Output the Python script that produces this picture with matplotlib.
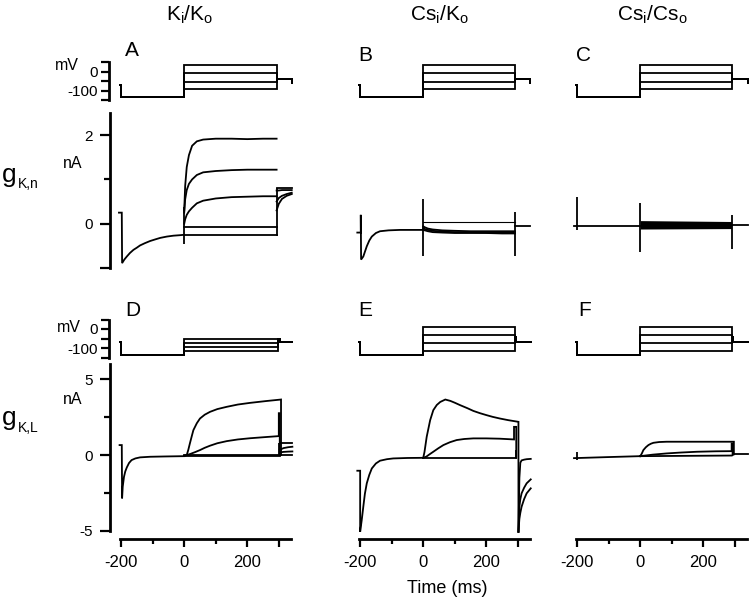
import matplotlib.pyplot as plt

plt.rcParams['font.family'] = ['Liberation Sans', 'DejaVu Sans']
plt.rcParams['mathtext.default'] = 'regular'

W, H = 749, 600

# ---------------- voltage protocols (mV) ----------------
PANELS = ['A', 'B', 'C', 'D', 'E', 'F']
V_HOLD = [-71, -71, -71, -68, -68, -68]
V_PRE = [-134, -134, -134, -137, -137, -137]
V_STEPS_TOP = [35, -8, -55, -92]
V_STEPS_D = [-53, -74, -95, -116]
V_STEPS_EF = [10, -32, -74, -116]
V_STEPS = [V_STEPS_TOP, V_STEPS_TOP, V_STEPS_TOP, V_STEPS_D, V_STEPS_EF, V_STEPS_EF]
V_NOTCH = [-39, -39, -39, -53, -40, -40]
V_TAIL = [-39, -39, -39, -68, -68, -68]
V_AFTER = [-60, -60, -60, -68, -68, -68]
STEP_END = [293, 291, 290, 296, 291, 290]
NOTCH_END = [293, 291, 290, 305, 295, 295]
TRACE_END = [341, 339, 341, 343, 341, 341]

# ---------------- currents (nA) ----------------
# A  Ki/Ko, gK,n
A_PRE_T = [-207, -198, -197, -190, -182, -172, -161, -150, -140, -125, -108, -90, -76, -55, -34, -15, 0]
A_PRE_I = [0.25, 0.25, -0.89, -0.81, -0.74, -0.66, -0.59, -0.54, -0.49, -0.44, -0.39, -0.35, -0.32,
           -0.29, -0.27, -0.26, -0.25]
A_STEP_T = [0, 3, 8, 15, 25, 40, 60, 100, 150, 200, 250, 293]
A_STEP_I = [
    [0.30, 0.85, 1.28, 1.55, 1.76, 1.86, 1.90, 1.92, 1.92, 1.91, 1.92, 1.92],
    [0.25, 0.55, 0.76, 0.90, 1.00, 1.10, 1.16, 1.19, 1.21, 1.22, 1.22, 1.22],
    [0.00, 0.10, 0.20, 0.28, 0.36, 0.46, 0.52, 0.57, 0.60, 0.61, 0.62, 0.62],
    [-0.08, -0.08, -0.08, -0.08, -0.08, -0.08, -0.08, -0.08, -0.08, -0.08, -0.08, -0.08],
    [-0.25, -0.25, -0.25, -0.25, -0.25, -0.25, -0.25, -0.25, -0.25, -0.25, -0.25, -0.25],
]
A_TAIL_T = [293, 300, 310, 325, 341]
A_TAIL_I = [
    [0.80, 0.80, 0.80, 0.80, 0.80],
    [0.75, 0.75, 0.76, 0.76, 0.76],
    [0.50, 0.58, 0.63, 0.67, 0.70],
    [0.30, 0.45, 0.56, 0.63, 0.67],
]
A_JUMPS = [(0, -0.45, 0.38), (293, -0.28, 0.80)]

# B  Csi/Ko, gK,n
B_PRE_T = [-209, -198, -198, -197, -190, -179, -171, -163, -150, -137, -110, -74, -40, 0]
B_PRE_I = [-0.20, -0.20, 0.20, -0.81, -0.74, -0.51, -0.38, -0.29, -0.21, -0.17, -0.15, -0.14, -0.14, -0.14]
B_STEP_T = [0, 5, 15, 30, 60, 100, 150, 200, 250, 291]
B_STEP_I = [
    [-0.06, -0.08, -0.11, -0.13, -0.15, -0.16, -0.17, -0.17, -0.17, -0.17],
    [-0.10, -0.12, -0.14, -0.16, -0.18, -0.19, -0.19, -0.20, -0.20, -0.20],
    [-0.14, -0.15, -0.17, -0.19, -0.20, -0.21, -0.21, -0.21, -0.22, -0.22],
]
B_THIN_T = [0, 291]
B_THIN_I = [0.03, 0.03]
B_TAIL_T = [291, 339]
B_TAIL_I = [-0.05, -0.05]
B_JUMPS = [(0, -0.74, 0.56), (291, -0.74, 0.26)]

# C  Csi/Cso, gK,n
C_PRE_T = [-210, 0]
C_PRE_I = [-0.06, -0.06]
C_BAND_T = [0, 290]
C_BAND_LO = [-0.12, -0.11]
C_BAND_HI = [0.07, 0.05]
C_TAIL_T = [290, 341]
C_TAIL_I = [-0.02, -0.02]
C_JUMPS = [(-201, -0.15, 0.60), (0, -0.64, 0.47), (290, -0.57, 0.20)]

# D  Ki/Ko, gK,L
D_PRE_T = [-205, -198, -197, -195, -191, -187, -182, -175, -167, -155, -140, -108, -60, 0]
D_PRE_I = [0.66, 0.66, -2.85, -2.08, -1.43, -1.08, -0.81, -0.52, -0.33, -0.22, -0.15, -0.11, -0.09, -0.07]
D_BIG_T = [0, 8, 13, 18, 24, 29, 40, 50, 65, 82, 105, 135, 170, 209, 260, 307, 307]
D_BIG_I = [-0.05, 0.0, 0.35, 0.77, 1.25, 1.64, 2.10, 2.41, 2.66, 2.85, 3.03, 3.18, 3.33, 3.44, 3.56, 3.66, 0.0]
D_MID_T = [0, 8, 20, 35, 50, 65, 82, 105, 135, 170, 209, 260, 300, 300, 303, 303]
D_MID_I = [-0.05, 0.0, 0.08, 0.20, 0.33, 0.48, 0.62, 0.78, 0.92, 1.03, 1.11, 1.19, 1.25, 2.76, 2.76, 0.0]
D_BASE_T = [0, 305]
D_BASE_I = [[-0.06, -0.06], [0.03, 0.03]]
D_TAIL_T = [303, 315, 330, 343]
D_TAIL_I = [
    [0.81, 0.81, 0.81, 0.81],
    [0.35, 0.46, 0.52, 0.55],
    [0.18, 0.21, 0.23, 0.24],
    [0.00, 0.00, 0.00, 0.00],
]
D_JUMPS = [(300, 0.0, 0.81)]

# E  Csi/Ko, gK,L
E_PRE_T = [-209, -200, -200, -195, -190, -185, -179, -171, -163, -150, -137, -115, -95, -50, 0]
E_PRE_I = [-1.03, -1.03, -5.05, -4.28, -3.40, -2.55, -1.86, -1.30, -0.88, -0.55, -0.37, -0.27, -0.22,
           -0.19, -0.18]
E_BIG_T = [0, 4, 11, 22, 32, 43, 54, 70, 86, 100, 117, 140, 159, 180, 201, 220, 243, 270, 302, 302]
E_BIG_I = [-0.18, 0.20, 1.20, 2.30, 2.96, 3.30, 3.50, 3.66, 3.57, 3.45, 3.29, 3.09, 2.91, 2.76, 2.63,
           2.52, 2.41, 2.30, 2.19, -5.05]
E_MID_T = [0, 10, 20, 32, 48, 64, 85, 106, 130, 159, 200, 243, 288, 288, 295, 295]
E_MID_I = [-0.18, -0.10, 0.05, 0.22, 0.45, 0.66, 0.85, 0.99, 1.06, 1.10, 1.10, 1.08, 1.03, 1.86, 1.86, -0.18]
E_BASE_T = [0, 293]
E_BASE_I = [-0.18, -0.18]
E_TAIL_T = [302, 305, 308, 312, 320, 328, 341]
E_TAIL_I = [
    [-5.05, -1.50, -0.50, -0.35, -0.30, -0.27, -0.25],
    [-5.05, -3.40, -2.90, -2.52, -2.15, -1.86, -1.60],
    [-5.05, -4.20, -3.80, -3.40, -2.90, -2.52, -2.19],
]
E_JUMPS = [(293, -0.18, 0.33)]

# F  Csi/Cso, gK,L
F_PRE_T = [-210, -100, 0]
F_PRE_I = [-0.20, -0.13, -0.07]
F_BIG_T = [0, 5, 10, 18, 26, 34, 42, 60, 84, 150, 220, 297, 297]
F_BIG_I = [-0.07, 0.10, 0.33, 0.52, 0.66, 0.75, 0.81, 0.86, 0.88, 0.88, 0.88, 0.88, 0.05]
F_MID_T = [0, 40, 84, 130, 180, 240, 290, 290, 293, 293]
F_MID_I = [-0.07, 0.03, 0.11, 0.17, 0.22, 0.25, 0.26, 0.77, 0.77, 0.0]
F_BASE_T = [0, 290]
F_BASE_I = [-0.07, -0.03]
F_TAIL_T = [293, 341]
F_TAIL_I = [0.07, 0.07]
F_JUMPS = [(-201.6, -0.30, 0.20)]

COL_TITLES = [r'$\mathregular{K_i/K_o}$', r'$\mathregular{Cs_i/K_o}$', r'$\mathregular{Cs_i/Cs_o}$']
X_TICKS = [-200, 0, 200, 300]
X_TICK_LABELS = ['-200', '0', '200', '']

# ---------------- layout ----------------
fig = plt.figure(figsize=(W / 100, H / 100), dpi=100)


def px_axes(left, top, width, height):
    ax = fig.add_axes([left / W, 1 - (top + height) / H, width / W, height / H])
    ax.patch.set_visible(False)
    for s in ax.spines.values():
        s.set_visible(False)
    ax.set_xticks([])
    ax.set_yticks([])
    ax.set_xlim(-210, 345)
    return ax


col_left = [118, 357, 574]
col_w = 175
v_axes, i_axes = [], []
for row, (v_top, i_top, i_h, ylim) in enumerate([(62, 113, 155, (-1, 2.5)), (319.5, 364, 167, (-5, 6))]):
    for col in range(3):
        va = px_axes(col_left[col], v_top, col_w, 38)
        va.set_ylim(-150, 50)
        ia = px_axes(col_left[col], i_top, col_w, i_h)
        ia.set_ylim(*ylim)
        v_axes.append(va)
        i_axes.append(ia)

LW = 1.3
kw = dict(color='black', lw=LW, clip_on=False, solid_joinstyle='miter')

# voltage traces
for k, ax in enumerate(v_axes):
    for v in V_STEPS[k]:
        t = [-205, -199, -199, 0, 0, STEP_END[k], STEP_END[k], NOTCH_END[k], NOTCH_END[k],
             TRACE_END[k], TRACE_END[k]]
        y = [V_HOLD[k], V_HOLD[k], V_PRE[k], V_PRE[k], v, v, V_NOTCH[k], V_NOTCH[k], V_TAIL[k],
             V_TAIL[k], V_AFTER[k]]
        ax.plot(t, y, **kw)


def jumps(ax, items):
    for t, lo, hi in items:
        ax.vlines(t, lo, hi, color='black', lw=LW, clip_on=False)


# A
ax = i_axes[0]
ax.plot(A_PRE_T, A_PRE_I, **kw)
for tr in A_STEP_I:
    ax.plot(A_STEP_T, tr, **kw)
for tr in A_TAIL_I:
    ax.plot(A_TAIL_T, tr, **kw)
jumps(ax, A_JUMPS)

# B
ax = i_axes[1]
ax.plot(B_PRE_T, B_PRE_I, **kw)
for tr in B_STEP_I:
    ax.plot(B_STEP_T, tr, **kw)
ax.plot(B_THIN_T, B_THIN_I, color='black', lw=0.8)
ax.plot(B_TAIL_T, B_TAIL_I, **kw)
jumps(ax, B_JUMPS)

# C
ax = i_axes[2]
ax.plot(C_PRE_T, C_PRE_I, **kw)
ax.fill_between(C_BAND_T, C_BAND_LO, C_BAND_HI, color='black', lw=0)
ax.plot(C_TAIL_T, C_TAIL_I, **kw)
jumps(ax, C_JUMPS)

# D
ax = i_axes[3]
ax.plot(D_PRE_T, D_PRE_I, **kw)
ax.plot(D_BIG_T, D_BIG_I, **kw)
ax.plot(D_MID_T, D_MID_I, **kw)
for tr in D_BASE_I:
    ax.plot(D_BASE_T, tr, **kw)
for tr in D_TAIL_I:
    ax.plot(D_TAIL_T, tr, **kw)
jumps(ax, D_JUMPS)

# E
ax = i_axes[4]
ax.plot(E_PRE_T, E_PRE_I, **kw)
ax.plot(E_BIG_T, E_BIG_I, **kw)
ax.plot(E_MID_T, E_MID_I, **kw)
ax.plot(E_BASE_T, E_BASE_I, **kw)
for tr in E_TAIL_I:
    ax.plot(E_TAIL_T, tr, **kw)
jumps(ax, E_JUMPS)

# F
ax = i_axes[5]
ax.plot(F_PRE_T, F_PRE_I, **kw)
ax.plot(F_BIG_T, F_BIG_I, **kw)
ax.plot(F_MID_T, F_MID_I, **kw)
ax.plot(F_BASE_T, F_BASE_I, **kw)
ax.plot(F_TAIL_T, F_TAIL_I, **kw)
jumps(ax, F_JUMPS)

# ---------------- axes decorations ----------------
SPINE_LW = 2.0
for va in (v_axes[0], v_axes[3]):
    sp = va.spines['left']
    sp.set_visible(True)
    sp.set_linewidth(SPINE_LW)
    sp.set_position(('outward', 6.5))
    sp.set_bounds(-150, 50)
    va.set_yticks([50, 0, -50, -100, -150])
    va.set_yticklabels(['', '0', '', '-100', ''])
    va.tick_params(axis='y', direction='out', length=5.5, width=1.6, labelsize=11, pad=2.5)

for ia, bounds, major, labels, minor in [
        (i_axes[0], (-1, 2.5), [-1, 0, 2], ['', '0', '2'], [1]),
        (i_axes[3], (-5, 6), [-5, 0, 5], ['-5', '0', '5'], [-2.5, 2.5])]:
    sp = ia.spines['left']
    sp.set_visible(True)
    sp.set_linewidth(SPINE_LW)
    sp.set_position(('outward', 6))
    sp.set_bounds(*bounds)
    ia.set_yticks(major)
    ia.set_yticklabels(labels)
    ia.set_yticks(minor, minor=True)
    ia.tick_params(axis='y', which='major', direction='out', length=7, width=1.6, labelsize=11, pad=5)
    ia.tick_params(axis='y', which='minor', direction='out', length=4, width=1.6)

for ia in i_axes[3:]:
    sp = ia.spines['bottom']
    sp.set_visible(True)
    sp.set_linewidth(SPINE_LW)
    sp.set_position(('outward', 6))
    sp.set_bounds(-203, 340)
    ia.set_xticks(X_TICKS)
    ia.set_xticklabels(X_TICK_LABELS)
    ia.set_xticks([-100, 100], minor=True)
    ia.tick_params(axis='x', which='major', direction='out', length=5.5, width=1.6, labelsize=12, pad=6)
    ia.tick_params(axis='x', which='minor', direction='out', length=3.5, width=1.6)

# ---------------- texts ----------------
def ftext(x, y, s, **k):
    fig.text(x / W, 1 - y / H, s, va='baseline', **k)


for x, s in zip([190, 439, 652], COL_TITLES):
    ftext(x, 20.5, s, ha='center', fontsize=15)

for (x, y), s in zip([(125, 56.5), (358, 61), (576, 61), (125, 316), (358, 316.5), (578, 316.5)], PANELS):
    ftext(x, y, s, ha='left', fontsize=15)

ftext(55, 70.5, 'mV', ha='left', fontsize=11.5)
ftext(57, 332.5, 'mV', ha='left', fontsize=11.5)
ftext(63, 168, 'nA', ha='left', fontsize=11.5)
ftext(63, 404, 'nA', ha='left', fontsize=11.5)

ftext(1.5, 182, 'g', ha='left', fontsize=19)
ftext(18, 188, 'K,n', ha='left', fontsize=10)
ftext(1.5, 425, 'g', ha='left', fontsize=19)
ftext(18, 432, 'K,L', ha='left', fontsize=10)

ftext(447, 593, 'Time (ms)', ha='center', fontsize=13)

fig.savefig('out.png', dpi=100)
